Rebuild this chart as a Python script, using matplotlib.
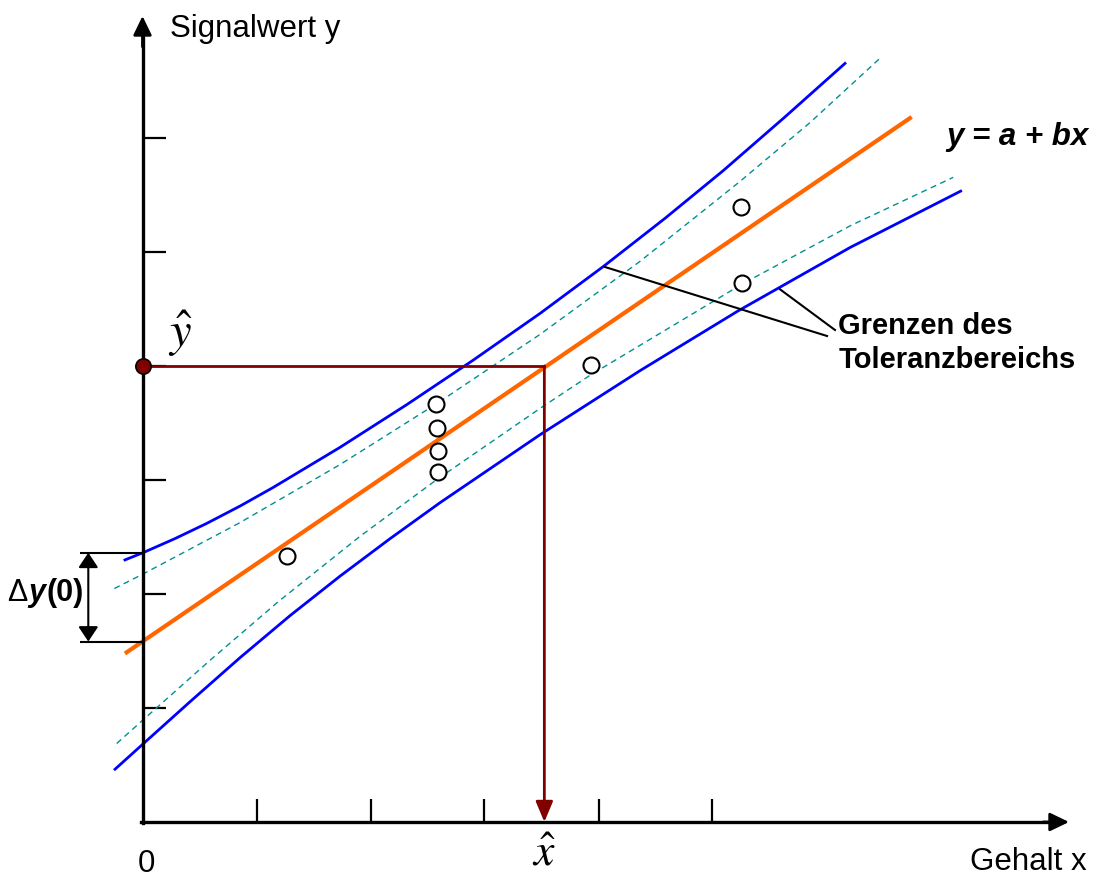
import matplotlib
matplotlib.use('Agg')
import matplotlib.pyplot as plt

plt.rcParams['font.family'] = ['Liberation Sans', 'DejaVu Sans']
plt.rcParams['mathtext.fontset'] = 'stix'

# regression line y = a + bx (x, y in tick units)
a = 1.583
b = 0.682
line_x = [-0.154, 6.747]

# read-back values
x_hat = 3.525
y_hat = 4.0

# measured calibration points
pts_x = [1.265, 2.575, 2.586, 2.595, 2.595, 3.932, 5.250, 5.256]
pts_y = [2.333, 3.664, 3.459, 3.254, 3.070, 4.009, 5.397, 4.731]

# tolerance limits (blue)
up_x = [-0.154, 0.004, 0.285, 0.563, 0.855, 1.147, 1.732, 2.318, 2.899, 3.487,
        4.048, 4.583, 5.092, 5.636, 6.162]
up_y = [2.299, 2.362, 2.486, 2.619, 2.771, 2.935, 3.286, 3.661, 4.050, 4.461,
        4.877, 5.295, 5.712, 6.185, 6.654]
lo_x = [-0.241, 0.004, 0.417, 0.855, 1.294, 1.732, 2.171, 2.610, 3.487, 4.364,
        5.224, 6.206, 7.177]
lo_y = [0.463, 0.684, 1.055, 1.441, 1.810, 2.156, 2.485, 2.801, 3.397, 3.959,
        4.483, 5.039, 5.534]

# confidence band (dashed)
cu_x = [-0.247, 0.004, 0.855, 1.732, 2.575, 3.487, 4.364, 5.241, 5.855, 6.484]
cu_y = [2.048, 2.175, 2.626, 3.135, 3.666, 4.277, 4.918, 5.619, 6.135, 6.713]
cl_x = [-0.226, 0.004, 0.592, 1.189, 1.908, 2.575, 3.487, 3.925, 5.259, 6.206, 7.112]
cl_y = [0.689, 0.895, 1.418, 1.931, 2.506, 2.999, 3.628, 3.918, 4.718, 5.229, 5.655]

dy0_top = 2.362

# pixel -> data helper for placing labels
U = 114.0
X0, Y0 = 142.5, 822.0
W, H = 1093, 877


def P(px, py):
    return ((px - X0) / U, (Y0 - py) / U)


fig = plt.figure(figsize=(W / 100, H / 100), dpi=100)
ax = fig.add_axes([0, 0, 1, 1])
ax.set_xlim(-X0 / U, (W - X0) / U)
ax.set_ylim(-(H - Y0) / U, Y0 / U)

# axes as arrows
for s in ['top', 'right']:
    ax.spines[s].set_visible(False)
ax.spines['left'].set_position(('data', 0))
ax.spines['bottom'].set_position(('data', 0))
ax.spines['left'].set_bounds(-0.01, 6.9)
ax.spines['bottom'].set_bounds(-0.01, 8.0)
for s in ['left', 'bottom']:
    ax.spines[s].set_linewidth(2.4)
ax.set_xticks(range(1, 6))
ax.set_yticks(range(1, 7))
ax.tick_params(direction='in', length=16.5, width=1.6, color='black',
               labelleft=False, labelbottom=False)

head = '-|>,head_length=0.58,head_width=0.28'
ax.annotate('', xy=(0, P(0, 16)[1]), xytext=(0, 6.8),
            arrowprops=dict(arrowstyle=head, mutation_scale=20, lw=2.0,
                            color='black', shrinkA=0, shrinkB=0))
ax.annotate('', xy=(P(1069, 0)[0], 0), xytext=(7.9, 0),
            arrowprops=dict(arrowstyle=head, mutation_scale=20, lw=2.0,
                            color='black', shrinkA=0, shrinkB=0))

# bands
ax.plot(cu_x, cu_y, color='#009090', lw=1.0, dashes=(4.3, 3.2))
ax.plot(cl_x, cl_y, color='#009090', lw=1.0, dashes=(4.3, 3.2))
ax.plot(up_x, up_y, color='#0000ff', lw=2.0)
ax.plot(lo_x, lo_y, color='#0000ff', lw=2.0)

# regression line
ax.plot(line_x, [a + b * v for v in line_x], color='#ff6600', lw=3.0,
        solid_capstyle='butt')

# points
ax.plot(pts_x, pts_y, 'o', ms=11.5, mfc='white', mec='black', mew=1.5,
        zorder=5)

# read-back
ax.plot([0, x_hat], [y_hat, y_hat], color='#800000', lw=2.0, zorder=4)
ax.annotate('', xy=(x_hat, 0), xytext=(x_hat, y_hat),
            arrowprops=dict(arrowstyle='-|>,head_length=0.62,head_width=0.26',
                            mutation_scale=20, lw=2.0, color='#800000',
                            shrinkA=0, shrinkB=0), zorder=4)
ax.plot(0, y_hat, 'o', ms=11, mfc='#800000', mec='black', mew=1.2,
        zorder=6, clip_on=False)

# delta y(0)
xl = P(80, 0)[0]
xa = P(88.3, 0)[0]
ax.hlines([dy0_top, a], xl, 0, color='black', lw=1.5)
ax.annotate('', xy=(xa, dy0_top), xytext=(xa, a),
            arrowprops=dict(arrowstyle='<|-|>,head_length=0.45,head_width=0.3',
                            mutation_scale=20, lw=1.5, color='black',
                            shrinkA=0, shrinkB=0))
ax.text(*P(7, 601), 'Δ', fontsize=22, va='baseline')
ax.text(*P(28, 601), 'y', fontsize=22, fontweight='bold',
        fontstyle='italic', va='baseline')
ax.text(*P(46, 601), '(0)', fontsize=22, fontweight='bold', va='baseline')

# leader lines
for p0, p1 in [((605, 267), (827, 336)), ((780, 289.3), (835, 330))]:
    q0, q1 = P(*p0), P(*p1)
    ax.plot([q0[0], q1[0]], [q0[1], q1[1]], color='black', lw=1.5)

# labels
ax.text(*P(170, 37), 'Signalwert y', fontsize=22.5, va='baseline')
ax.text(*P(970, 870), 'Gehalt x', fontsize=22.5, va='baseline')
ax.text(*P(146, 864), '0', fontsize=22.5, ha='center', va='center')
ax.text(*P(946, 145), 'y = a + bx', fontsize=22.5, fontweight='bold',
        fontstyle='italic', va='baseline')
ax.text(*P(838.5, 334), 'Grenzen des', fontsize=21, fontweight='bold',
        va='baseline')
ax.text(*P(838.5, 368), 'Toleranzbereichs', fontsize=21, fontweight='bold',
        va='baseline')
ax.text(*P(180, 347), r'$\hat{y}$', fontsize=35, ha='center', va='baseline')
ax.text(*P(543.7, 866), r'$\hat{x}$', fontsize=33, ha='center', va='baseline')

fig.savefig('out.png', dpi=100)
